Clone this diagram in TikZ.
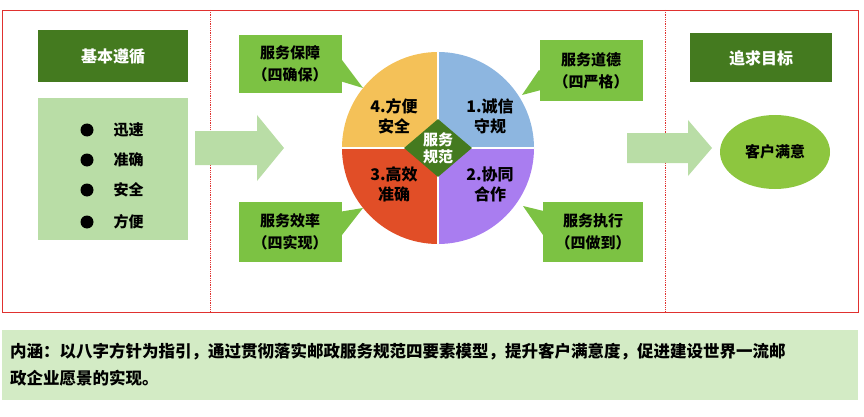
\documentclass[tikz,border=0pt]{standalone}
\usepackage{fontspec}
\setmainfont{Noto Sans CJK SC}
\usetikzlibrary{shapes.geometric}
\definecolor{darkgreen}{HTML}{447A1F}
\definecolor{callgreen}{HTML}{7CC243}
\definecolor{palegreen}{HTML}{B9DDA6}
\definecolor{notegreen}{HTML}{D3EBC5}
\definecolor{pieblue}{HTML}{8DB6E0}
\definecolor{piepurple}{HTML}{A97DF0}
\definecolor{piered}{HTML}{E14E27}
\definecolor{pieyellow}{HTML}{F4C158}
\definecolor{goalgreen}{HTML}{8DC63F}
\definecolor{framered}{HTML}{E0312F}

\tikzset{
	titlebox/.style={fill=darkgreen, text=white, font=\bfseries\fontsize{16}{18}\selectfont, minimum width=150pt, minimum height=52pt},
	callbox/.style={fill=callgreen, font=\bfseries\fontsize{15}{22}\selectfont, minimum width=103pt, minimum height=60pt, align=center, inner sep=0pt},
	slicetext/.style={font=\bfseries\fontsize{16}{20}\selectfont, align=center},
	bullet/.style={circle, fill=black, minimum size=13pt, inner sep=0pt},
	listtext/.style={font=\bfseries\fontsize{15}{18}\selectfont, anchor=west}
}

\begin{document}
\begin{tikzpicture}[x=1pt, y=-1pt]
	\useasboundingbox (0,0) rectangle (864,417);
	% frame
	\draw[framered, thick] (2,10) rectangle (858,312);
	\draw[framered, densely dotted, thick] (210,10) -- (210,312);
	\draw[framered, densely dotted, thick] (665,10) -- (665,312);

	% left column
	\node[titlebox] (basis) at (113,56) {基本遵循};
	\node[fill=palegreen, minimum width=150pt, minimum height=142pt] (basislist) at (113,169) {};
	\foreach \y/\word in {130/迅速, 160/准确, 190/安全, 222/方便} {
		\node[bullet] at (87,\y) {};
		\node[listtext] at (110,\y) {\word};
	}
	\fill[palegreen] (195,131) -- (257,131) -- (257,115) -- (284,148) -- (257,181) -- (257,165) -- (195,165) -- cycle;

	% pie
	\coordinate (pie) at (438,148);
	\fill[pieblue]   (pie) -- +(0,-96) arc[start angle=90,  end angle=0,   radius=96pt] -- cycle;
	\fill[piepurple] (pie) -- +(96,0)  arc[start angle=0,   end angle=-90, radius=96pt] -- cycle;
	\fill[piered]    (pie) -- +(0,96)  arc[start angle=-90, end angle=-180, radius=96pt] -- cycle;
	\fill[pieyellow] (pie) -- +(-96,0) arc[start angle=180, end angle=90,  radius=96pt] -- cycle;
	\draw[white, line width=1.5pt] (pie) +(-96,0) -- +(96,0) (pie) +(0,-96) -- +(0,96);
	\node[diamond, fill=darkgreen, minimum width=68pt, minimum height=58pt, inner sep=0pt] (core) at (pie) {};
	\node[text=white, font=\bfseries\fontsize{15}{17}\selectfont, align=center] at (pie) {服务\\规范};
	\node[slicetext] (sliceone)   at (490,116) {1.诚信\\守规};
	\node[slicetext] (slicetwo)   at (490,184) {2.协同\\合作};
	\node[slicetext] (slicethree) at (394,184) {3.高效\\准确};
	\node[slicetext] (slicefour)  at (394,116) {4.方便\\安全};

	% callouts
	\coordinate (tipfour)  at (363,88);
	\coordinate (tipone)   at (522,95);
	\coordinate (tipthree) at (363,208);
	\coordinate (tiptwo)   at (523,206);
	\fill[callgreen] (320,75) -- (tipfour) -- (342,60) -- cycle;
	\fill[callgreen] (560,85) -- (tipone) -- (539,70) -- cycle;
	\fill[callgreen] (320,215) -- (tipthree) -- (342,235) -- cycle;
	\fill[callgreen] (560,215) -- (tiptwo) -- (543,235) -- cycle;
	\node[callbox, minimum height=58pt] (guarantee) at (290,64)  {服务保障\\（四确保）};
	\node[callbox, minimum height=61pt] (ethics)    at (591,71)  {服务道德\\（四严格）};
	\node[callbox] (efficiency) at (290,232) {服务效率\\（四实现）};
	\node[callbox, minimum width=100pt] (execution)  at (593,232) {服务执行\\（四做到）};

	% right column
	\fill[palegreen] (627,133) -- (688,133) -- (688,120) -- (712,148) -- (688,176) -- (688,163) -- (627,163) -- cycle;
	\node[titlebox, minimum width=142pt, minimum height=49pt] (goal) at (761,58) {追求目标};
	\node[ellipse, fill=goalgreen, minimum width=110pt, minimum height=74pt, font=\bfseries\fontsize{15}{18}\selectfont] (customer) at (775,152) {客户满意};

	% note
	\node[fill=notegreen, minimum width=856pt, minimum height=70pt] (note) at (430,365) {};
	\node[anchor=north west, font=\bfseries\fontsize{16.5}{27}\selectfont, align=left, text width=850pt, inner sep=0pt] at (10,343)
		{内涵：以八字方针为指引，通过贯彻落实邮政服务规范四要素模型，提升客户满意度，促进建设世界一流邮\\政企业愿景的实现。};
\end{tikzpicture}
\end{document}
